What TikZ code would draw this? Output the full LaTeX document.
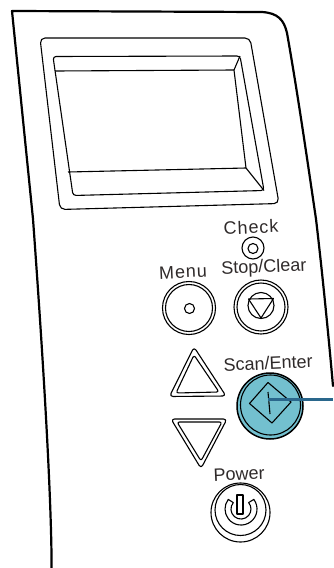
\documentclass[tikz,border=0pt]{standalone}
\usepackage{fontspec}
\setmainfont{Liberation Sans}
\newfontfamily\spaced[LetterSpace=5]{Liberation Sans}
\definecolor{btn}{HTML}{73C0CF}
\definecolor{lead}{HTML}{2A678C}
\definecolor{lab}{HTML}{2F2A2A}
\tikzset{
  lbl/.style={inner sep=0pt,rotate=2.5,text=lab,font=\fontsize{18}{20}\selectfont},
  panel/.style={line width=2.2pt,line cap=round,line join=round},
  thin line/.style={line width=1.1pt,line join=round},
  ring/.style={circle,draw,line width=1.1pt,inner sep=0pt},
}
\begin{document}
\begin{tikzpicture}[x=1pt,y=-1pt]
\useasboundingbox (0,0) rectangle (333,568);
% panel outline
\draw[panel] (51.6,568) .. controls (51.5,500) and (44,370) .. (33,219) -- (12,11) -- (262,12)
  .. controls (278,13) and (284,20) .. (287,33)
  .. controls (298,95) and (308,165) .. (316,219)
  .. controls (322,270) and (328,330) .. (333,386);
% display frame
\draw[thin line,rounded corners=5pt] (40,38) -- (250,38) -- (279,203.5) -- (60,209.5) -- cycle;
\draw[thin line,rounded corners=3pt] (53,56.5) -- (240,56) -- (264,190.5) -- (73,195.5) -- cycle;
\draw[thin line] (55,71) -- (234,70) -- (246,168) -- (68,172);
\draw[thin line] (240,56) -- (234,70) (246,168) -- (264,190.5);
% labels
\node[lbl,font=\fontsize{18}{20}\selectfont\spaced] (check) at (251,227) {Check};
\node[lbl,font=\fontsize{18}{20}\selectfont\spaced] (menu) at (183,272) {Menu};
\node[lbl] (stop) at (264,268) {Stop/Clear};
\node[lbl] (scan) at (268,363) {Scan/Enter};
\node[lbl] (power) at (239,474) {Power};
% check lamp
\node[ring,minimum size=22pt] (lampo) at (253,248) {};
\node[ring,minimum size=10pt] (lampi) at (253,248.5) {};
% menu button
\node[ring,minimum size=53pt] (menuo) at (189,308) {};
\node[ring,minimum size=47pt] (menui) at (189,308) {};
\node[ring,minimum size=10pt] (menud) at (189.5,308.5) {};
% stop button
\node[ring,minimum size=54pt] (stopo) at (261,307) {};
\node[ring,minimum size=48pt] (stopi) at (261,307) {};
\node[ring,minimum size=26pt] (stopc) at (261,305.5) {};
\draw[thin line] (248.5,299) -- (273.5,298.5) -- (261,318) -- cycle;
% up arrow
\draw[thin line,rounded corners=3.5pt] (194,347) -- (226,396) -- (169.5,396.5) -- cycle;
\draw[thin line,rounded corners=2.5pt] (194,355) -- (219,392) -- (176,393) -- cycle;
% down arrow
\draw[thin line,rounded corners=3.5pt] (171,419) -- (227,419) -- (201,468.5) -- cycle;
\draw[thin line,rounded corners=2.5pt] (177,422) -- (222,422) -- (201,461) -- cycle;
% scan button
\node[circle,draw,fill=btn,line width=1.5pt,inner sep=0pt,minimum size=66pt] (scano) at (270,406) {};
\node[ring,minimum size=60pt] (scani) at (270.5,405) {};
\draw[thin line] (249.5,403.5) -- (268,382.5) -- (291,402) -- (272,423) -- cycle;
\draw[thin line] (268,392) -- (270,414);
\coordinate (leadend) at (333,399.5);
\coordinate (leadstart) at (268,399.5);
\draw[lead,line width=2.6pt] (leadstart) -- (leadend);
% power button
\node[ring,minimum size=59pt] (powero) at (240.5,512.5) {};
\node[ring,minimum size=51pt] (poweri) at (240.5,510) {};
\draw[thin line] (253.8,499.4) arc[start angle=-37,end angle=217,radius=16]
  -- (233.3,502.6) arc[start angle=220,end angle=-40,radius=10] -- cycle;
\draw[thin line,fill=white] (237,495) rectangle (243,514);
\end{tikzpicture}
\end{document}
